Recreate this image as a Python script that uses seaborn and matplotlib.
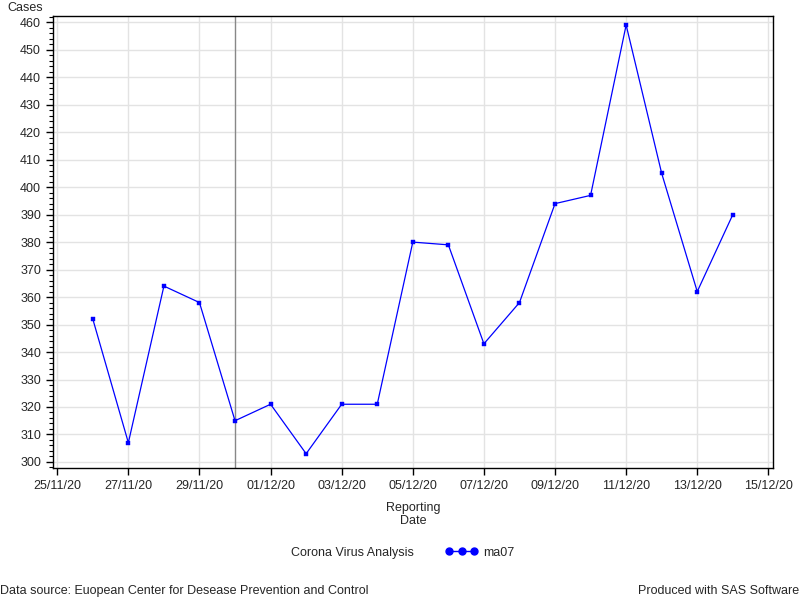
import seaborn as sns
import matplotlib.pyplot as plt
import matplotlib.dates as mdates
from matplotlib.ticker import MultipleLocator
from matplotlib.lines import Line2D
import pandas as pd

# data (7 day moving average)
dates = ["2020-11-26", "2020-11-27", "2020-11-28", "2020-11-29", "2020-11-30",
         "2020-12-01", "2020-12-02", "2020-12-03", "2020-12-04", "2020-12-05",
         "2020-12-06", "2020-12-07", "2020-12-08", "2020-12-09", "2020-12-10",
         "2020-12-11", "2020-12-12", "2020-12-13", "2020-12-14"]
ma07 = [352, 307, 364, 358, 315, 321, 303, 321, 321, 380,
        379, 343, 358, 394, 397, 459, 405, 362, 390]
ref_date = "2020-11-30"

df = pd.DataFrame({"date": pd.to_datetime(dates), "ma07": ma07})

sns.set_style("white")
plt.rcParams['font.family'] = ['Liberation Sans', 'DejaVu Sans']
plt.rcParams['font.size'] = 9

fig = plt.figure(figsize=(8, 6), dpi=100)
ax = fig.add_axes([0.066, 0.22, 0.9, 0.753])

sns.lineplot(data=df, x="date", y="ma07", ax=ax, color="blue", linewidth=0.9,
             marker="s", markersize=2.4, markeredgewidth=0.3,
             markeredgecolor="blue", zorder=3)
ax.axvline(pd.Timestamp(ref_date), color="#888888", linewidth=1, zorder=2)

ax.set_xlim(pd.Timestamp("2020-11-25") - pd.Timedelta(hours=3),
            pd.Timestamp("2020-12-15") + pd.Timedelta(hours=3))
ax.set_ylim(297.8, 462.2)
ax.xaxis.set_major_locator(mdates.DayLocator(bymonthday=[1, 3, 5, 7, 9, 11, 13, 15, 25, 27, 29]))
ax.xaxis.set_major_formatter(mdates.DateFormatter("%d/%m/%y"))
ax.yaxis.set_major_locator(MultipleLocator(10))
ax.yaxis.set_minor_locator(MultipleLocator(2))

ax.grid(True, which="major", color="#e3e3e3", linewidth=1)
ax.set_axisbelow(True)
for s in ax.spines.values():
    s.set_color("black")
    s.set_linewidth(1)
ax.tick_params(axis="both", which="major", direction="out", length=5, width=1,
               color="black", labelsize=9, bottom=True, left=True)
ax.tick_params(axis="y", which="minor", direction="out", length=3, width=0.8,
               color="black", left=True)

ax.set_xlabel("Reporting\nDate", fontsize=9, labelpad=7, linespacing=1.15)
ax.set_ylabel("")
fig.text(0.009, 0.987, "Cases", fontsize=9, ha="left", va="center")

# legend row
fig.text(0.44, 0.079, "Corona Virus Analysis", fontsize=9, ha="center", va="center")
handle = Line2D([], [], color="blue", marker="o", markersize=5, linewidth=1)
fig.legend([handle], ["ma07"], loc="center", bbox_to_anchor=(0.6, 0.079),
           numpoints=3, frameon=False, fontsize=9, handlelength=2.6,
           handletextpad=0.4, borderpad=0)

fig.text(0.0, 0.015, "Data source: Euopean Center for Desease Prevention and Control",
         fontsize=9, ha="left", va="center")
fig.text(0.999, 0.015, "Produced with SAS Software", fontsize=9, ha="right", va="center")

fig.savefig("out.png", dpi=100)
